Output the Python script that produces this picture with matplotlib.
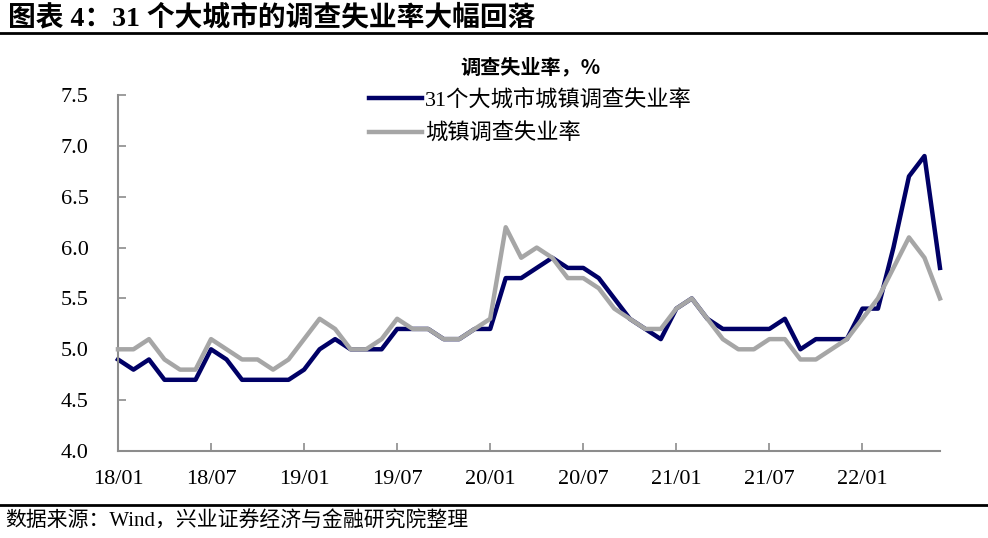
import matplotlib
matplotlib.use("Agg")
import matplotlib.pyplot as plt
import numpy as np

# monthly data 2018/01 - 2022/06
months = [f"{y:02d}/{m:02d}" for y in range(18, 23) for m in range(1, 13)][:54]

city31 = [4.9, 4.8, 4.9, 4.7, 4.7, 4.7, 5.0, 4.9, 4.7, 4.7, 4.7, 4.7,
          4.8, 5.0, 5.1, 5.0, 5.0, 5.0, 5.2, 5.2, 5.2, 5.1, 5.1, 5.2,
          5.2, 5.7, 5.7, 5.8, 5.9, 5.8, 5.8, 5.7, 5.5, 5.3, 5.2, 5.1,
          5.4, 5.5, 5.3, 5.2, 5.2, 5.2, 5.2, 5.3, 5.0, 5.1, 5.1, 5.1,
          5.4, 5.4, 6.0, 6.7, 6.9, 5.8]

urban = [5.0, 5.0, 5.1, 4.9, 4.8, 4.8, 5.1, 5.0, 4.9, 4.9, 4.8, 4.9,
         5.1, 5.3, 5.2, 5.0, 5.0, 5.1, 5.3, 5.2, 5.2, 5.1, 5.1, 5.2,
         5.3, 6.2, 5.9, 6.0, 5.9, 5.7, 5.7, 5.6, 5.4, 5.3, 5.2, 5.2,
         5.4, 5.5, 5.3, 5.1, 5.0, 5.0, 5.1, 5.1, 4.9, 4.9, 5.0, 5.1,
         5.3, 5.5, 5.8, 6.1, 5.9, 5.5]

tick_labels = ["18/01", "18/07", "19/01", "19/07", "20/01", "20/07", "21/01", "21/07", "22/01"]

SERIF = ["Liberation Serif", "Noto Sans CJK SC"]
CJK = ["Noto Sans CJK SC", "DejaVu Sans"]

fig = plt.figure(figsize=(9.88, 5.38), dpi=100)
ax = fig.add_axes([0.1194, 0.1617, 0.832, 0.6617])

x = np.arange(len(months))
ax.plot(x, city31, color="#000066", lw=3.2, label="31个大城市城镇调查失业率", clip_on=False)
ax.plot(x, urban, color="#a6a6a6", lw=3.2, label="城镇调查失业率", clip_on=False, zorder=3)

ax.set_xlim(0, len(months) - 1)
ax.set_ylim(4.0, 7.5)
ax.set_yticks(np.arange(4.0, 7.51, 0.5))
ax.set_yticklabels([f"{v:.1f}" for v in np.arange(4.0, 7.51, 0.5)], family=SERIF, fontsize=16)
ax.set_xticks(np.arange(0, len(months), 6))
ax.set_xticklabels(tick_labels, family=SERIF, fontsize=16)

for s in ["top", "right"]:
    ax.spines[s].set_visible(False)
for s in ["left", "bottom"]:
    ax.spines[s].set_color("#8c8c8c")
    ax.spines[s].set_linewidth(1.5)
ax.tick_params(axis="both", direction="in", length=6, width=1.2, color="#8c8c8c")
ax.tick_params(axis="y", pad=21)
ax.tick_params(axis="x", pad=14)

leg = ax.legend(loc="upper left", bbox_to_anchor=(0.362, 0.915), bbox_transform=fig.transFigure,
                frameon=False, prop={"family": SERIF, "size": 16},
                title="调查失业率，%", title_fontproperties={"family": CJK, "size": 14.5, "weight": "bold"},
                handlelength=2.4, handletextpad=0.15, labelspacing=0.6, borderpad=0)
leg._legend_box.sep = 8

# title and frame lines
fig.text(0.008, 0.992, "图表 4：31 个大城市的调查失业率大幅回落", family=SERIF, fontsize=20,
         fontweight="bold", va="top", ha="left")
fig.add_artist(plt.Line2D([0, 1], [0.938, 0.938], color="black", lw=2, transform=fig.transFigure))
fig.add_artist(plt.Line2D([0, 1], [0.061, 0.061], color="black", lw=2, transform=fig.transFigure))
fig.text(0.005, 0.031, "数据来源：Wind，兴业证券经济与金融研究院整理", family=SERIF, fontsize=15,
         va="center", ha="left")

fig.savefig("out.png", dpi=100)
